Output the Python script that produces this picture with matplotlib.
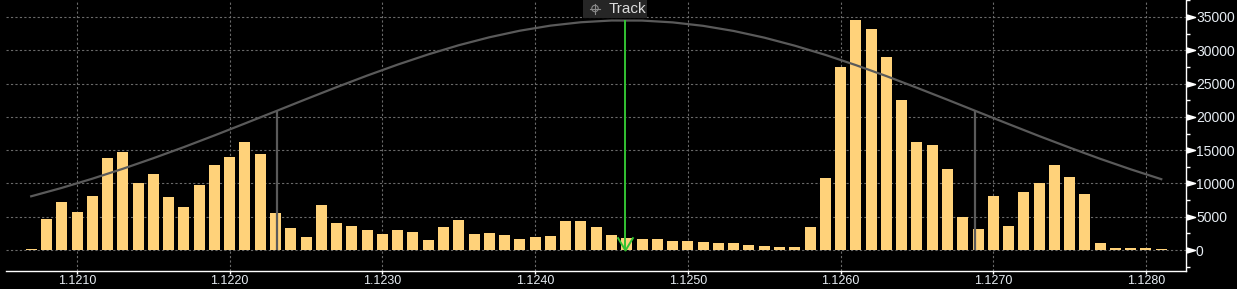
import numpy as np
import matplotlib
matplotlib.use("Agg")
import matplotlib.pyplot as plt
from matplotlib.path import Path
from matplotlib.patches import Circle
from matplotlib.transforms import ScaledTranslation
from matplotlib.ticker import MultipleLocator, FormatStrFormatter


# volume per price bin (bins 0.0001 wide, first centre 1.1207)
first_bin = 1.1207
bin_step = 0.0001
volume = [
    200, 4700, 7200, 5700, 8100, 13800, 14700, 10050, 11400, 7950,
    6450, 9750, 12750, 13950, 16200, 14400, 5550, 3300, 1950, 6750,
    4050, 3600, 3000, 2400, 3000, 2700, 1500, 3450, 4500, 2400,
    2550, 2250, 1650, 1950, 2100, 4350, 4350, 3450, 2250, 1800,
    1650, 1650, 1350, 1350, 1200, 1050, 1050, 750, 600, 450,
    450, 3450, 10800, 27450, 34500, 33150, 28950, 22500, 16200, 15750,
    12150, 4950, 3150, 8100, 3600, 8700, 10050, 12750, 10950, 8400,
    1050, 300, 300, 300, 150,
]

# grey distribution curve, read every 0.0002 from 1.1207
curve_step = 0.0002
curve_y = [
    8070, 9330, 10710, 12200, 13790, 15460, 17210, 19010, 20830, 22660,
    24460, 26200, 27850, 29380, 30760, 31950, 32940, 33700, 34210, 34470,
    34460, 34190, 33670, 32900, 31900, 30690, 29310, 27770, 26120, 24370,
    22570, 20740, 18920, 17120, 15380, 13700, 12120, 10640,
]

sigma_prices = [1.12231, 1.12688]
sigma_heights = [20900, 20900]
track_price = 1.12459
track_height = 34500

x_ticks = [1.1210, 1.1220, 1.1230, 1.1240, 1.1250, 1.1260, 1.1270, 1.1280]
y_ticks = [0, 5000, 10000, 15000, 20000, 25000, 30000, 35000]

W, H = 1237, 289
bar_color = '#FFD27A'
grid_color = '#6A6A6A'
curve_color = '#5A5A5A'
label_color = '#E6ECF2'

plt.rcParams['font.family'] = ['Liberation Sans Narrow', 'Liberation Sans', 'DejaVu Sans']

fig = plt.figure(figsize=(W / 100, H / 100), dpi=100, facecolor='black')
ax = fig.add_axes([6 / W, 18 / H, 1180 / W, 271 / H], facecolor='black')

bin_x = np.round(first_bin + bin_step * np.arange(len(volume)), 5)
curve_x = first_bin + curve_step * np.arange(len(curve_y))

ax.bar(bin_x, volume, width=bin_step * 0.72, color=bar_color, zorder=2)
ax.plot(curve_x, curve_y, color=curve_color, lw=1.6, zorder=3)
ax.vlines(sigma_prices, 0, sigma_heights, color=curve_color, lw=1.6, zorder=3)
ax.vlines(track_price, 0, track_height, color='#33C233', lw=1.4, zorder=4)

# open chevron at the bottom of the track line
chevron = Path([(-0.6, 1.0), (0.0, 0.0), (0.6, 1.0)], [Path.MOVETO, Path.LINETO, Path.LINETO])
ax.plot([track_price], [0], marker=chevron, ms=19, mec='#33C233', mfc='none', mew=1.4,
        linestyle='none', zorder=5)

ax.set_xlim(1.120535, 1.128262)
ax.set_ylim(-3150, 37550)

# grid
for xv in x_ticks:
    ax.axvline(xv, color=grid_color, lw=0.8, dashes=(2, 2), zorder=1)
for yv in y_ticks:
    ax.axhline(yv, color=grid_color, lw=0.8, dashes=(2, 2), zorder=1)

# spines
for side in ['top', 'left']:
    ax.spines[side].set_visible(False)
for side in ['bottom', 'right']:
    ax.spines[side].set_color('white')
    ax.spines[side].set_linewidth(1.0)

ax.set_xticks(x_ticks)
ax.xaxis.set_major_formatter(FormatStrFormatter('%.4f'))
ax.tick_params(axis='x', colors='white', length=2.2, width=1, pad=0.5,
               labelsize=9, labelcolor=label_color)
for lab in ax.get_xticklabels():
    lab.set_family(['Liberation Sans', 'DejaVu Sans'])

ax.yaxis.tick_right()
ax.set_yticks(y_ticks)
ax.yaxis.set_minor_locator(MultipleLocator(2500))
ax.tick_params(axis='y', which='major', length=0, pad=7.2, labelsize=10, labelcolor=label_color)
ax.tick_params(axis='y', which='minor', length=3, width=1, color='white', direction='out')

# triangular markers on the price axis
tri = Path([(-1, -0.6), (1, 0), (-1, 0.6), (-1, -0.6)],
           [Path.MOVETO, Path.LINETO, Path.LINETO, Path.CLOSEPOLY])
shift = ScaledTranslation(4.5 / 100, 0, fig.dpi_scale_trans)
ax.plot(np.ones(len(y_ticks)), y_ticks, linestyle='none', marker=tri, ms=5.8,
        color='white', transform=ax.get_yaxis_transform() + shift, clip_on=False, zorder=6)

# "Track" badge at the top
badge = fig.add_axes([583 / W, 1 - 18 / H, 64 / W, 18 / H], facecolor='#262626')
badge.set_xlim(0, 64)
badge.set_ylim(18, 0)
badge.set_xticks([])
badge.set_yticks([])
for s in badge.spines.values():
    s.set_visible(False)
badge.add_patch(Circle((12, 8.5), 3.2, fill=False, ec='#8A8A8A', lw=0.8))
badge.plot([7, 17], [8.5, 8.5], color='#8A8A8A', lw=0.8)
badge.plot([12, 12], [3.5, 13.5], color='#8A8A8A', lw=0.8)
badge.text(26, 9, 'Track', color='#DCDCDC', fontsize=11, va='center', ha='left')

fig.savefig('out.png', dpi=100, facecolor='black')
